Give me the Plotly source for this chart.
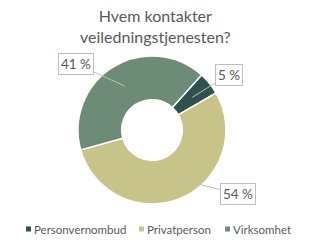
import math
import plotly.graph_objects as go

categories = ["Personvernombud", "Privatperson", "Virksomhet"]
values = [5, 54, 41]
labels_text = ["5 %", "54 %", "41 %"]
colors = ["#2F504C", "#C8C388", "#6E8B78"]
title_text = "Hvem kontakter<br>veiledningstjenesten?"

W, H = 311, 250
FONT = "Lato"
GRAY = "#595959"
rotation = 42
cx, cy, R = 152, 130, 74  # pixel centre/radius of the pie domain

dom_x = [(cx - R) / W, (cx + R) / W]
dom_y = [(H - cy - R) / H, (H - cy + R) / H]

fig = go.Figure(go.Pie(
    labels=categories,
    values=values,
    marker=dict(colors=colors, line=dict(color="white", width=1.5)),
    hole=0.41,
    sort=False,
    direction="clockwise",
    rotation=rotation,
    textinfo="none",
    hoverinfo="label+percent",
    domain=dict(x=dom_x, y=dom_y),
    showlegend=False,
))

# label box centres (pixels)
box_pos = [(228.5, 74.5), (238, 194), (76, 64)]
total = sum(values)
start = rotation
annotations = []
for v, t, (bx, by) in zip(values, labels_text, box_pos):
    mid = start + v / total * 360 / 2
    start += v / total * 360
    a = math.radians(mid)
    px = cx + 0.7 * R * math.sin(a)
    py = cy - 0.7 * R * math.cos(a)
    annotations.append(dict(
        x=px / W, y=(H - py) / H, xref="paper", yref="paper",
        ax=bx - px, ay=by - py,
        text=t, showarrow=True, arrowhead=0, arrowwidth=1,
        arrowcolor="#BFBFBF",
        font=dict(family=FONT, size=13.5, color=GRAY),
        bgcolor="white", bordercolor="#BFBFBF", borderwidth=1, borderpad=2,
    ))

annotations.append(dict(
    text=title_text, x=0.5, y=1 - 4 / H, xref="paper", yref="paper",
    xanchor="center", yanchor="top", showarrow=False,
    font=dict(family=FONT, size=16, color=GRAY),
))

# legend (drawn as squares + text)
legend_x = [26, 139, 225]
legend_y = 229
shapes = []
for name, c, lx in zip(categories, colors, legend_x):
    shapes.append(dict(
        type="rect", xref="paper", yref="paper",
        x0=lx / W, x1=(lx + 5) / W,
        y0=(H - legend_y - 2.5) / H, y1=(H - legend_y + 2.5) / H,
        fillcolor=c, line=dict(width=0),
    ))
    annotations.append(dict(
        text=name, x=(lx + 6) / W, y=(H - legend_y) / H,
        xref="paper", yref="paper", xanchor="left", yanchor="middle",
        showarrow=False, font=dict(family=FONT, size=11.5, color=GRAY),
    ))

fig.update_layout(
    width=W, height=H,
    margin=dict(l=0, r=0, t=0, b=0),
    paper_bgcolor="white",
    showlegend=False,
    annotations=annotations,
    shapes=shapes,
)

fig.write_html("out.html")
